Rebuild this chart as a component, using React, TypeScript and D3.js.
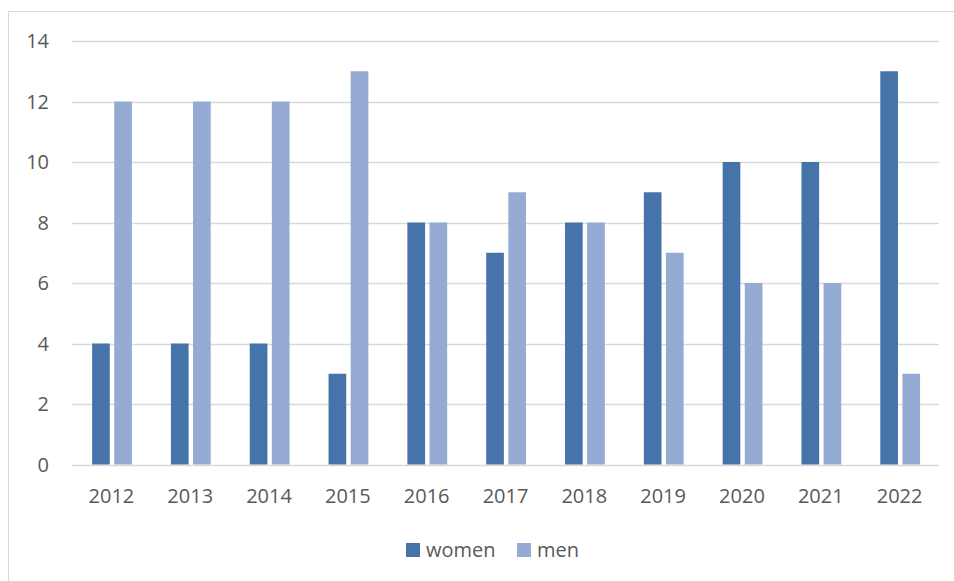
import { useEffect, useRef } from 'react'
import * as d3 from 'd3'

const years = ['2012', '2013', '2014', '2015', '2016', '2017', '2018', '2019', '2020', '2021', '2022']
const women = [4, 4, 4, 3, 8, 7, 8, 9, 10, 10, 13]
const men = [12, 12, 12, 13, 8, 9, 8, 7, 6, 6, 3]
const seriesNames = ['women', 'men']
const yTicks = [0, 2, 4, 6, 8, 10, 12, 14]

const colors: Record<string, string> = { women: '#4674AA', men: '#95ABD3' }
const textColor = '#595959'
const font = '"Open Sans", "Liberation Sans", sans-serif'

export default function App() {
  const svgRef = useRef<SVGSVGElement>(null)
  const width = 954
  const height = 581

  useEffect(() => {
    if (!svgRef.current) return
    const svg = d3.select(svgRef.current)
    svg.selectAll('*').remove()

    // chart frame (runs past the right/bottom of the window)
    svg.append('rect')
      .attr('x', 8.5).attr('y', 11.5)
      .attr('width', 1000).attr('height', 700)
      .attr('fill', '#fff')
      .attr('stroke', '#d9d9d9')
      .attr('stroke-width', 1)

    const plotLeft = 72
    const plotRight = 939
    const y = d3.scaleLinear().domain([0, 14]).range([464.5, 41])

    const x0 = d3.scaleBand<string>().domain(years).range([plotLeft, plotRight]).padding(0)
    const bw = x0.bandwidth()
    const x1 = d3.scaleBand<string>()
      .domain(seriesNames)
      .range([bw * 0.255, bw * 0.76])
      .paddingInner(0.2)

    // gridlines
    svg.append('g')
      .selectAll('line')
      .data(yTicks)
      .enter().append('line')
      .attr('x1', plotLeft).attr('x2', plotRight)
      .attr('y1', d => Math.round(y(d)) + 0.5)
      .attr('y2', d => Math.round(y(d)) + 0.5)
      .attr('stroke', '#d9d9d9')
      .attr('stroke-width', 1.3)

    // y labels
    svg.append('g')
      .selectAll('text')
      .data(yTicks)
      .enter().append('text')
      .attr('x', 49)
      .attr('y', d => y(d))
      .attr('dy', '0.35em')
      .attr('text-anchor', 'end')
      .style('font-family', font)
      .style('font-size', '20px')
      .style('fill', textColor)
      .text(d => d)

    const rows = years.map((year, i) => ({ year, women: women[i], men: men[i] }))

    const groups = svg.append('g')
      .selectAll('g')
      .data(rows)
      .enter().append('g')
      .attr('transform', d => `translate(${x0(d.year)},0)`)

    groups.selectAll('rect')
      .data(d => seriesNames.map(key => ({ key, value: (d as any)[key] as number })))
      .enter().append('rect')
      .attr('x', d => x1(d.key) || 0)
      .attr('y', d => y(d.value))
      .attr('width', x1.bandwidth())
      .attr('height', d => y(0) - y(d.value))
      .attr('fill', d => colors[d.key])

    // x labels
    svg.append('g')
      .selectAll('text')
      .data(years)
      .enter().append('text')
      .attr('x', d => (x0(d) || 0) + bw / 2)
      .attr('y', 503)
      .attr('text-anchor', 'middle')
      .style('font-family', font)
      .style('font-size', '20px')
      .style('fill', textColor)
      .text(d => d)

    // legend
    const legendItems = [
      { key: 'women', x: 406 },
      { key: 'men', x: 517 }
    ]
    const legend = svg.append('g')
    legendItems.forEach(item => {
      legend.append('rect')
        .attr('x', item.x).attr('y', 543)
        .attr('width', 14).attr('height', 14)
        .attr('fill', colors[item.key])
      legend.append('text')
        .attr('x', item.x + 20)
        .attr('y', 550)
        .attr('dy', '0.35em')
        .style('font-family', font)
        .style('font-size', '20px')
        .style('fill', textColor)
        .text(item.key)
    })
  }, [])

  return (
    <svg
      ref={svgRef}
      width={width}
      height={height}
      style={{ position: 'absolute', left: 0, top: 0, background: '#fff' }}
    />
  )
}
